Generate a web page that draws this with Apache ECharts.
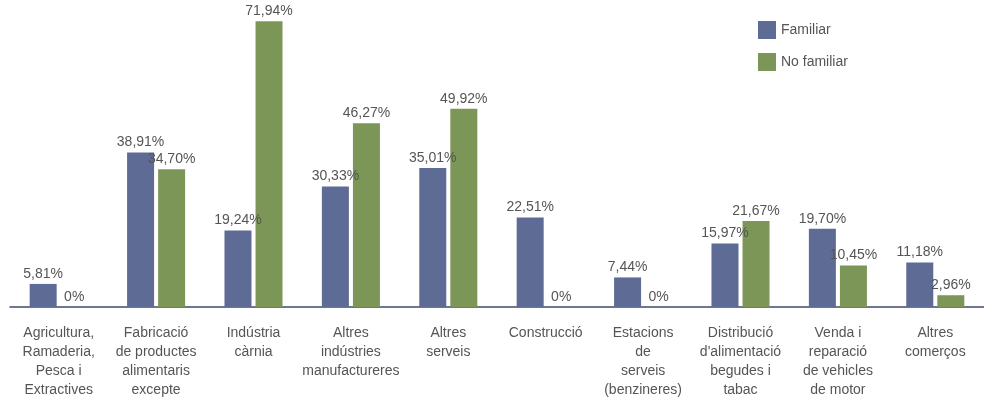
<!DOCTYPE html>
<html>
<head>
<meta charset="utf-8">
<script src="https://cdn.jsdelivr.net/npm/echarts@6/dist/echarts.min.js"></script>
<style>
html,body{margin:0;padding:0;background:#fff;}
#c{width:984px;height:400px;}
</style>
</head>
<body>
<div id="c"></div>
<script>
const categories = [
  "Agricultura,\nRamaderia,\nPesca i\nExtractives",
  "Fabricació\nde productes\nalimentaris\nexcepte",
  "Indústria\ncàrnia",
  "Altres\nindústries\nmanufactureres",
  "Altres\nserveis",
  "Construcció",
  "Estacions\nde\nserveis\n(benzineres)",
  "Distribució\nd'alimentació\nbegudes i\ntabac",
  "Venda i\nreparació\nde vehicles\nde motor",
  "Altres\ncomerços"
];
const familiar   = [5.81, 38.91, 19.24, 30.33, 35.01, 22.51, 7.44, 15.97, 19.70, 11.18];
const noFamiliar = [0, 34.70, 71.94, 46.27, 49.92, 0, 0, 21.67, 10.45, 2.96];
const seriesNames = ["Familiar", "No familiar"];

const FONT = "'Liberation Sans', Arial, sans-serif";
const TXT = '#555555';
const fmt = p => p.value === 0 ? '0%' : p.value.toFixed(2).replace('.', ',') + '%';
const labelCfg = {show:true, position:'top', distance:3, formatter:fmt,
  fontFamily:FONT, fontSize:14, color:TXT};

const chart = echarts.init(document.getElementById('c'), null, {renderer:'canvas'});
chart.setOption({
  backgroundColor:'#fff',
  animation:false,
  grid:{left:10, width:980, top:9, bottom:93, containLabel:false},
  legend:{
    orient:'vertical', left:753, top:16, itemWidth:18, itemHeight:18, itemGap:14,
    icon:'rect',
    textStyle:{fontFamily:FONT, fontSize:14, color:TXT},
    data:seriesNames
  },
  xAxis:{
    type:'category', data:categories,
    axisLine:{lineStyle:{color:'#3f4b6b', width:1.5}},
    axisTick:{show:false},
    axisLabel:{interval:0, margin:17, fontFamily:FONT, fontSize:14, lineHeight:19, color:TXT}
  },
  yAxis:{type:'value', min:0, max:75, show:false, splitLine:{show:false}},
  series:[
    {name:seriesNames[0], type:'bar', data:familiar, barWidth:27, barGap:'15%',
     itemStyle:{color:'#5e6b94'}, label:labelCfg},
    {name:seriesNames[1], type:'bar', data:noFamiliar, barWidth:27, barGap:'15%',
     itemStyle:{color:'#7b9656'}, label:labelCfg}
  ]
});
</script>
</body>
</html>
